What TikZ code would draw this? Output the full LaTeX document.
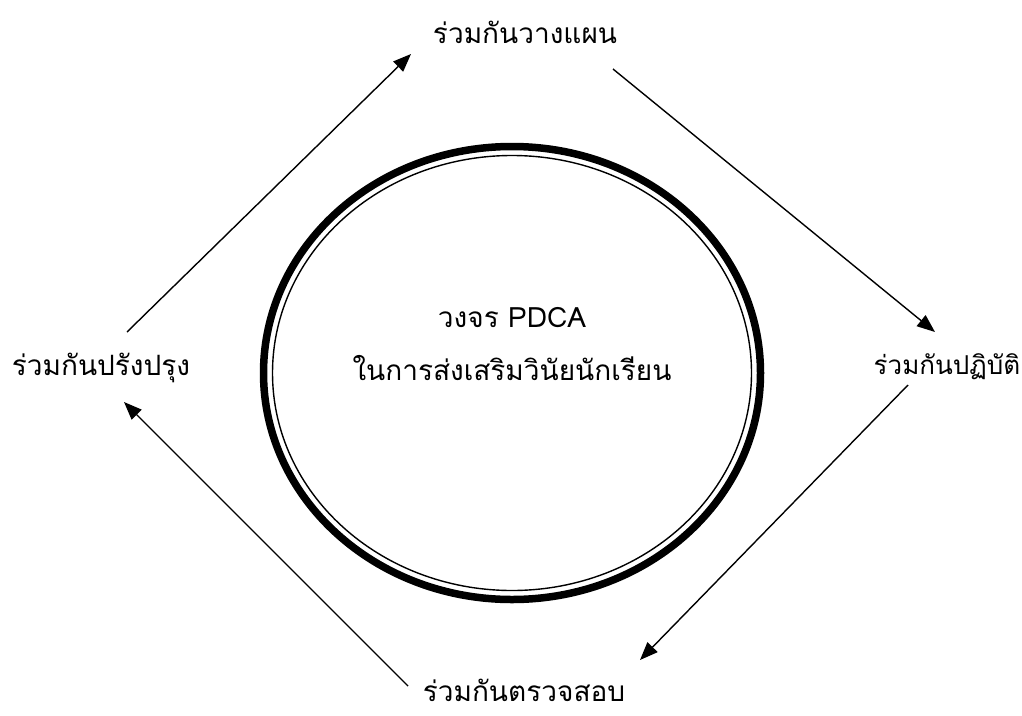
\documentclass[tikz,border=0pt]{standalone}
\usepackage{fontspec}
\newfontfamily\thaifont[Script=Thai]{Loma}
\usetikzlibrary{arrows.meta}
\begin{document}
\begin{tikzpicture}[x=1pt,y=-1pt,
  lbl/.style={font=\thaifont\fontsize{28}{32}\selectfont, inner sep=0pt},
  lblsmall/.style={font=\thaifont\fontsize{26}{30}\selectfont, inner sep=0pt},
  arr/.style={line width=1.4pt, -{Triangle[length=18pt,width=14pt]}},
  ring/.style={line width=7.5pt},
  innerring/.style={line width=1.4pt}]
\useasboundingbox (0,0) rectangle (1022,715);
\draw[ring] (512,373) ellipse [x radius=248.5pt, y radius=226.5pt];
\draw[innerring] (512,373) ellipse [x radius=239.5pt, y radius=217.5pt];
\node[lbl] (plan) at (525,32) {ร่วมกันวางแผน};
\node[lblsmall] (do) at (947,367) {ร่วมกันปฏิบัติ};
\node[lbl] (check) at (524,690) {ร่วมกันตรวจสอบ};
\node[lbl] (act) at (101,368) {ร่วมกันปรังปรุง};
\node[lbl] (title) at (512,318) {วงจร PDCA};
\node[lbl] (sub) at (512,368) {ในการส่งเสริมวินัยนักเรียน};
\coordinate (a1s) at (127,332);
\coordinate (a1e) at (411,54);
\coordinate (a2s) at (613,69);
\coordinate (a2e) at (935,332);
\coordinate (a3s) at (908,385);
\coordinate (a3e) at (640,660);
\coordinate (a4s) at (408,686);
\coordinate (a4e) at (124,402);
\draw[arr] (a1s) -- (a1e);
\draw[arr] (a2s) -- (a2e);
\draw[arr] (a3s) -- (a3e);
\draw[arr] (a4s) -- (a4e);
\end{tikzpicture}
\end{document}
